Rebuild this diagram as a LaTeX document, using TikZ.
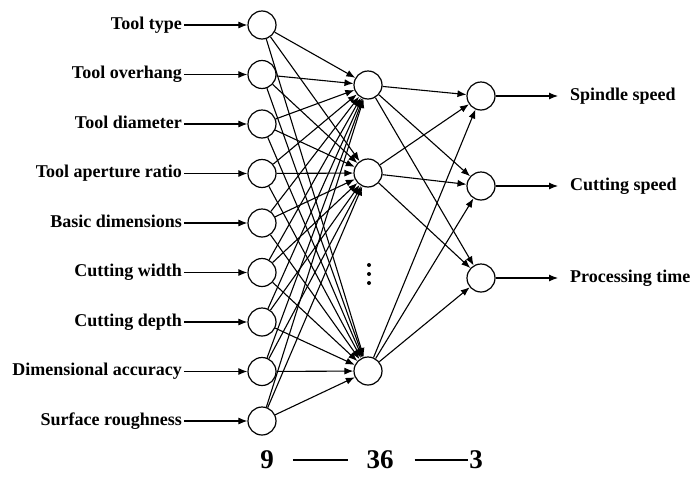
\documentclass[tikz,border=0pt]{standalone}
\usepackage{fontspec}
\setmainfont{Liberation Serif}
\usetikzlibrary{arrows.meta}

\begin{document}
\begin{tikzpicture}[x=1pt,y=-1pt,
    neuron/.style={draw,circle,line width=1.2pt,minimum size=28pt,inner sep=0pt},
    conn/.style={line width=1.1pt,-{Latex[length=9pt,width=7pt]}},
    feat/.style={font=\fontsize{18}{21}\selectfont\bfseries,inner sep=2pt,text height=12pt,text depth=4pt},
    num/.style={font=\fontsize{27}{30}\selectfont\bfseries,inner sep=0pt}]
  \useasboundingbox (0,0) rectangle (694,477);
  % input layer
  \foreach \lab [count=\i] in {Tool type,Tool overhang,Tool diameter,Tool aperture ratio,Basic dimensions,Cutting width,Cutting depth,Dimensional accuracy,Surface roughness}{
    \node[neuron] (in\i) at (262,{25+49.5*(\i-1)}) {};
    \node[feat,anchor=east] (lab\i) at (184,{25+49.5*(\i-1)}) {\lab};
    \draw[conn] (lab\i) -- (in\i);
  }
  % hidden layer
  \node[neuron] (h1) at (368,85) {};
  \node[neuron] (h2) at (368,173) {};
  \node[neuron] (h3) at (368,371) {};
  \foreach \y in {265,274,283} \fill (369,\y) circle (2pt);
  % output layer
  \node[neuron] (o1) at (481,96) {};
  \node[neuron] (o2) at (481,186) {};
  \node[neuron] (o3) at (481,278) {};
  \node[feat,anchor=west] (out1) at (568,96) {Spindle speed};
  \node[feat,anchor=west] (out2) at (568,186) {Cutting speed};
  \node[feat,anchor=west] (out3) at (568,278) {Processing time};
  % weights
  \foreach \i in {1,...,9}
    \foreach \j in {1,2,3}
      \draw[conn] (in\i) -- (h\j);
  \foreach \j in {1,2,3}
    \foreach \k in {1,2,3}
      \draw[conn] (h\j) -- (o\k);
  \foreach \k in {1,2,3}
    \draw[conn,shorten >=10pt] (o\k) -- (out\k);
  % layer sizes
  \node[num] (n9) at (267,460) {9};
  \node[num] (n36) at (380,460) {36};
  \node[num] (n3) at (476,460) {3};
  \draw[line width=1.6pt,shorten <=19pt,shorten >=18pt] (n9) -- (n36);
  \draw[line width=1.6pt,shorten <=21pt,shorten >=1pt] (n36) -- (n3);
\end{tikzpicture}
\end{document}
